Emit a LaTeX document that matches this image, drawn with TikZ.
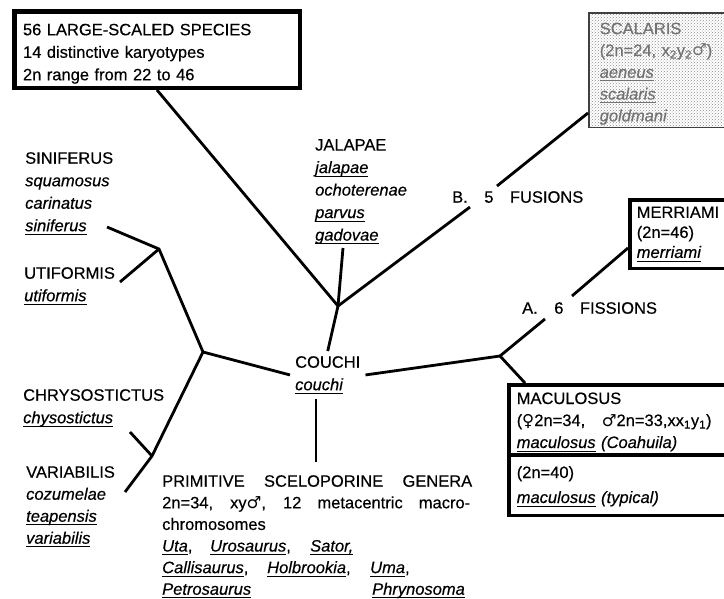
\documentclass[tikz,border=0pt]{standalone}
\usepackage{fontspec}
\setmainfont{Liberation Sans}[UprightFeatures={FakeBold=0.4}, ItalicFeatures={FakeBold=0.4}]
\newfontfamily\symfont{DejaVu Sans}
\usepackage{tikz}
\usetikzlibrary{patterns, shapes.multipart}
\newcommand{\treefont}[1][22.5]{\fontsize{16.5}{#1}\selectfont\spaceskip=0.75em plus 2em minus 0.2em\relax}
\newcommand{\species}[1]{\textit{#1}}
\newcommand{\uspecies}[1]{\underline{\raisebox{0pt}[\height][1.5pt]{\textit{#1}}}}
\newcommand{\femsign}{{\symfont ♀}}
\newcommand{\malesign}{{\symfont ♂}}
\tikzset{
  branch/.style={line width=2.8pt, line join=round},
  lbl/.style={anchor=north west, inner sep=0pt, align=left, font=\treefont},
  groupbox/.style={draw, anchor=north west, align=left, font=\treefont},
}

\begin{document}
\begin{tikzpicture}[x=1pt, y=-1pt]
\useasboundingbox (0,0) rectangle (724,598);
\clip (0,0) rectangle (724,598);

% 枠
\node[groupbox, line width=4.5pt, text width=268pt, inner xsep=8.75pt, inner ysep=2pt, minimum height=76.5pt] (large) at (12,9)
  {\rule{0pt}{20pt}\makebox[262pt][s]{56 LARGE-SCALED SPECIES}\\
   \makebox[209pt][s]{14 distinctive karyotypes}\\
   \makebox[240pt][s]{2n range from 22 to 46}};
\node[groupbox, line width=1.5pt, draw=black!75, pattern=crosshatch dots, pattern color=black!45,
      text=black!55, text width=200pt, inner xsep=11pt, inner ysep=0pt, minimum height=114.5pt, font={\treefont[21.8]}] (scalaris) at (588,12)
  {\rule{0pt}{19pt}SCALARIS\\(2n=24, x\textsubscript{2}y\textsubscript{2}\malesign)\\\uspecies{aeneus}\\\uspecies{scalaris}\\\species{goldmani}};
\node[groupbox, line width=3.5pt, text width=150pt, inner xsep=7pt, minimum height=68.5pt, font={\treefont[20]}] (merriami) at (628,198)
  {MERRIAMI\\(2n=46)\\\uspecies{merriami}};
\node[groupbox, rectangle split, rectangle split parts=2, line width=3.5pt, text width=260pt, inner xsep=8pt, inner ysep=1.5pt, font={\treefont[22]}] (maculosus) at (507,383)
  {\rule{0pt}{16pt}MACULOSUS\\(\femsign2n=34,\quad\malesign2n=33,xx\textsubscript{1}y\textsubscript{1})\\\uspecies{maculosus}\ \species{(Coahuila)}
   \nodepart{two}\rule{0pt}{20pt}(2n=40)\\[3pt]\uspecies{maculosus}\ \species{(typical)}\rule[-9pt]{0pt}{9pt}};

% 種群
\node[lbl] (siniferus) at (25,152) {SINIFERUS\\\species{squamosus}\\\species{carinatus}\\\uspecies{siniferus}};
\node[lbl] (utiformis) at (24,267) {UTIFORMIS\\\uspecies{utiformis}};
\node[lbl] (jalapae) at (315,139) {JALAPAE\\\uspecies{jalapae}\\\species{ochoterenae}\\\uspecies{parvus}\\\uspecies{gadovae}};
\node[lbl] (chrysostictus) at (23,389) {CHRYSOSTICTUS\\\uspecies{chysostictus}};
\node[lbl, font={\treefont[22]}] (variabilis) at (26,466) {VARIABILIS\\\species{cozumelae}\\\uspecies{teapensis}\\\uspecies{variabilis}};
\node[lbl, inner sep=5pt] (couchi) at (290,351) {COUCHI\\\uspecies{couchi}};
\node[lbl, font={\treefont[21.6]}] (primitive) at (162,475)
  {\makebox[310pt][s]{PRIMITIVE SCELOPORINE GENERA}\\
   \makebox[308pt][s]{2n=34, xy\malesign, 12 metacentric macro-}\\
   chromosomes\\
   \makebox[48pt][l]{\uspecies{Uta},}\makebox[100pt][l]{\uspecies{Urosaurus},}\uspecies{Sator,}\\
   \makebox[105pt][l]{\uspecies{Callisaurus},}\makebox[103pt][l]{\uspecies{Holbrookia},}\uspecies{Uma},\\
   \makebox[210pt][l]{\uspecies{Petrosaurus}}\uspecies{Phrynosoma}};
\node[lbl] (fusions) at (452,191) {B.\quad5\quad FUSIONS};
\node[lbl] (fissions) at (522,302) {A.\quad6\quad FISSIONS};

% 分岐点
\coordinate (jtop) at (338,306);
\coordinate (jright) at (500,356);
\coordinate (jleft) at (203,352);
\coordinate (jsin) at (159,249);
\coordinate (jchr) at (152,456);
\coordinate (jalend) at (343,248);
\coordinate (bcut) at (470,207);
\coordinate (bgo) at (497,186);
\coordinate (acut) at (545,319);
\coordinate (ago) at (572,296);
\coordinate (sinend) at (107,227);
\coordinate (utiend) at (120,282);
\coordinate (chrend) at (130,432);
\coordinate (varend) at (125,492);
\coordinate (primtop) at (316,462);

% 枝
\draw[branch] (large.south) -- (jtop);
\draw[branch] (jalend) -- (jtop);
\draw[branch] (jtop) -- (bcut);
\draw[branch] (bgo) -- ([yshift=15pt]scalaris.south west);
\draw[branch] (jtop) -- (couchi.north);
\draw[branch] (couchi.east) -- (jright);
\draw[branch] (jright) -- (acut);
\draw[branch] (ago) -- ([yshift=-14pt]merriami.west);
\draw[branch] (jright) -- ([xshift=18pt]maculosus.north west);
\draw[branch] (couchi.west) -- (jleft) -- (jsin) -- (sinend);
\draw[branch] (jsin) -- (utiend);
\draw[branch] (jleft) -- (jchr) -- (varend);
\draw[branch] (jchr) -- (chrend);
\draw[branch] (couchi.south -| primtop) -- (primtop);

\end{tikzpicture}
\end{document}
